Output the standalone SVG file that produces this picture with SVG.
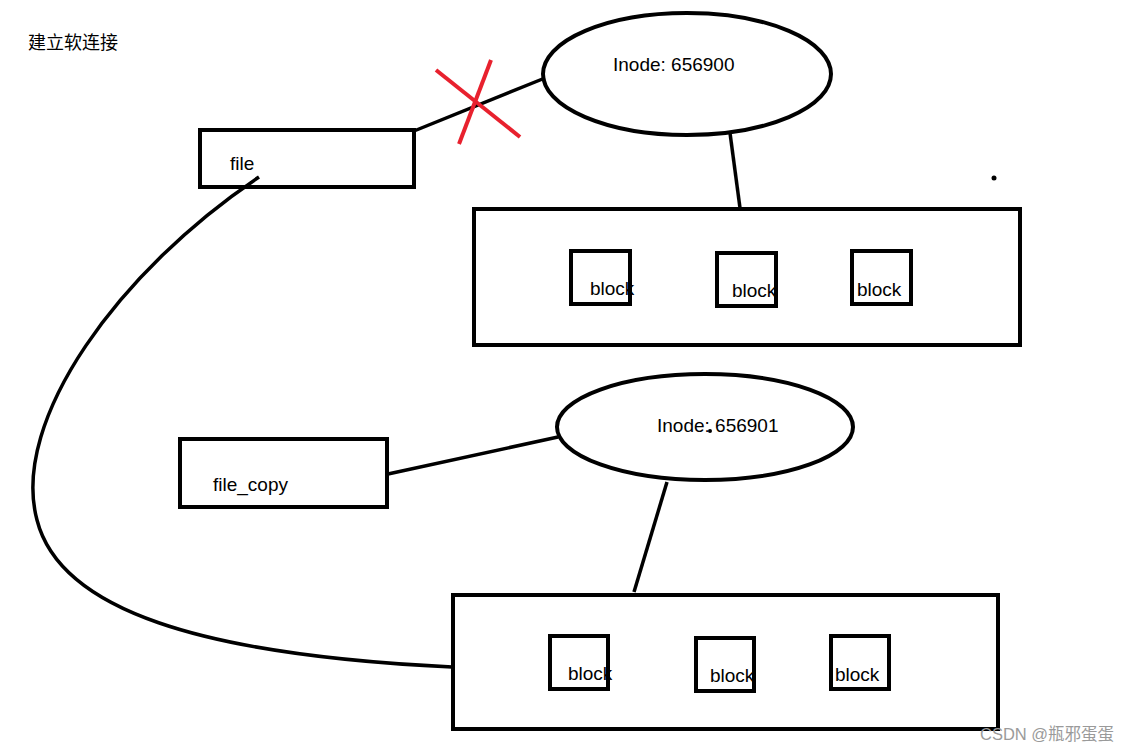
<svg xmlns="http://www.w3.org/2000/svg" width="1130" height="752" viewBox="0 0 1130 752">
<style>
.box{fill:none;stroke:#000;stroke-width:4}
.blk{fill:none;stroke:#000;stroke-width:4}
.ln{fill:none;stroke:#000;stroke-width:3.5;stroke-linecap:butt}
.t{font-family:"Liberation Sans","Noto Sans CJK SC",sans-serif;font-size:19px;fill:#000}
.red{stroke:#e8212e;stroke-width:4;fill:none}
</style>
<rect width="1130" height="752" fill="#fff"/>
<text class="t" x="28" y="49" style="font-size:18px">建立软连接</text>

<g id="connectors">
<line class="ln" x1="414" y1="131" x2="545" y2="78"/>
<line class="ln" x1="730" y1="133" x2="740" y2="208"/>
<line class="ln" x1="388" y1="474" x2="558" y2="437"/>
<line class="ln" x1="667" y1="482" x2="634" y2="592"/>
<path class="ln" d="M259,177 C120,270 10,420 37,520 C60,610 200,655 452,667"/>
</g>

<g id="cross">
<line class="red" x1="436" y1="70" x2="520" y2="137"/>
<line class="red" x1="491" y1="60" x2="459" y2="144"/>
</g>

<g id="file">
<rect class="box" x="200" y="130" width="214" height="57"/>
<text class="t" x="230" y="170">file</text>
</g>

<g id="inode1">
<ellipse class="box" cx="687" cy="74" rx="144" ry="61"/>
<text class="t" x="613" y="71">Inode: 656900</text>
</g>

<g id="blocks1">
<rect class="box" x="474" y="209" width="546" height="136"/>
<rect class="blk" x="571" y="251" width="59" height="53"/>
<text class="t" x="590" y="295">block</text>
<rect class="blk" x="717" y="253" width="59" height="53"/>
<text class="t" x="732" y="297">block</text>
<rect class="blk" x="852" y="251" width="59" height="53"/>
<text class="t" x="857" y="296">block</text>
</g>

<circle cx="994" cy="178" r="2.5" fill="#000"/>

<g id="file_copy">
<rect class="box" x="180" y="439" width="207" height="68"/>
<text class="t" x="213" y="491">file_copy</text>
</g>

<g id="inode2">
<ellipse class="box" cx="705" cy="427" rx="148" ry="53"/>
<text class="t" x="657" y="432">Inode: 656901</text>
<circle cx="710" cy="431" r="2" fill="#000"/>
</g>

<g id="blocks2">
<rect class="box" x="453" y="595" width="545" height="134"/>
<rect class="blk" x="550" y="636" width="58" height="53"/>
<text class="t" x="568" y="680">block</text>
<rect class="blk" x="696" y="638" width="58" height="53"/>
<text class="t" x="710" y="682">block</text>
<rect class="blk" x="831" y="636" width="58" height="53"/>
<text class="t" x="835" y="681">block</text>
</g>

<text x="980" y="740" style="font-family:'Liberation Sans','Noto Sans CJK SC',sans-serif;font-size:16.5px;fill:#9a9a9a">CSDN @瓶邪蛋蛋</text>
</svg>
